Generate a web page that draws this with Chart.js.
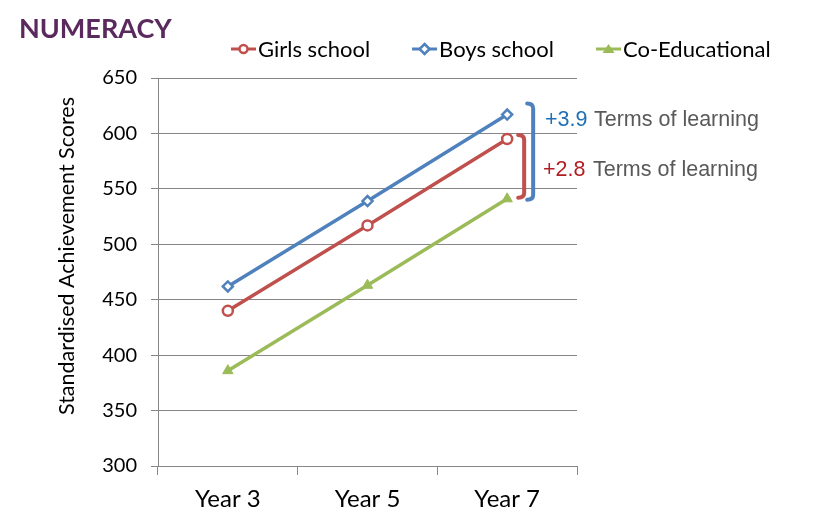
<!DOCTYPE html>
<html lang="en">
<head>
    <meta charset="UTF-8">
    <title>Numeracy</title>
    <script src="https://cdn.jsdelivr.net/npm/chart.js"></script>
    <style>
        html, body { margin: 0; padding: 0; background: #fff; }
        .chart-box { width: 815px; height: 519px; }
    </style>
</head>
<body>
    <div class="chart-box">
        <canvas id="numeracyChart"></canvas>
    </div>

    <script>
        // values
        const years = ['Year 3', 'Year 5', 'Year 7'];
        const girlsScores = [440, 517, 595];
        const boysScores = [462, 539, 617];
        const coedScores = [386, 463, 541];
        const yTicks = [300, 350, 400, 450, 500, 550, 600, 650];

        // gap annotations at Year 7: [label, top series value, bottom series value]
        const boysGap = ['+3.9', 617, 541];
        const girlsGap = ['+2.8', 595, 541];
        const gapText = 'Terms of learning';
        const yTitle = 'Standardised Achievement Scores';

        const RED = '#C0504D', BLUE = '#4F81BD', GREEN = '#9BBB59';
        const FONT = 'Lato, "Open Sans", sans-serif';

        // line + marker, as in the legend
        function drawIcon(g, x, y, color, shape) {
            g.strokeStyle = color; g.lineWidth = 3;
            g.beginPath(); g.moveTo(x, y); g.lineTo(x + 25, y); g.stroke();
            const cx = x + 12.5;
            g.lineWidth = 2.5;
            g.beginPath();
            if (shape === 'circle') {
                g.arc(cx, y, 4, 0, Math.PI * 2);
                g.fillStyle = '#fff'; g.fill(); g.stroke();
            } else if (shape === 'rectRot') {
                g.moveTo(cx, y - 5); g.lineTo(cx + 5, y); g.lineTo(cx, y + 5); g.lineTo(cx - 5, y); g.closePath();
                g.fillStyle = '#fff'; g.fill(); g.stroke();
            } else {
                g.moveTo(cx, y - 5); g.lineTo(cx + 6, y + 4); g.lineTo(cx - 6, y + 4); g.closePath();
                g.fillStyle = color; g.fill();
            }
        }

        const extras = {
            id: 'extras',
            afterDraw(chart) {
                const ctx = chart.ctx;
                const x = chart.scales.x, y = chart.scales.y;
                ctx.save();
                // title
                ctx.fillStyle = '#5A2A5E';
                ctx.font = 'bold 27px ' + FONT;
                ctx.textBaseline = 'middle';
                ctx.fillText('NUMERACY', 19, 29);

                // y axis title
                ctx.save();
                ctx.translate(67, 256);
                ctx.rotate(-Math.PI / 2);
                ctx.font = '21.5px ' + FONT;
                ctx.fillStyle = '#000';
                ctx.textAlign = 'center';
                ctx.fillText(yTitle, 0, 0);
                ctx.restore();

                // legend
                ctx.font = '22px ' + FONT;
                let lx = 231;
                chart.data.datasets.forEach(ds => {
                    drawIcon(ctx, lx, 49, ds.borderColor, ds.pointStyle);
                    lx += 27;
                    ctx.fillStyle = '#000';
                    ctx.fillText(ds.label, lx, 50);
                    lx += ctx.measureText(ds.label).width + 42;
                });

                // brackets
                const x7 = x.getPixelForValue(2);
                function bracket(px, top, bottom, color) {
                    ctx.strokeStyle = color;
                    ctx.lineWidth = 4;
                    ctx.lineCap = 'round';
                    ctx.lineJoin = 'round';
                    ctx.beginPath();
                    ctx.moveTo(px - 6, top);
                    ctx.quadraticCurveTo(px, top, px, top + 5);
                    ctx.lineTo(px, bottom - 5);
                    ctx.quadraticCurveTo(px, bottom, px - 6, bottom);
                    ctx.stroke();
                }
                bracket(x7 + 26, y.getPixelForValue(boysGap[1]) - 11, y.getPixelForValue(boysGap[2]) + 1, BLUE);
                bracket(x7 + 17, y.getPixelForValue(girlsGap[1]) - 4, y.getPixelForValue(girlsGap[2]) - 1, RED);

                // gap labels
                ctx.font = '21.5px "Liberation Sans", Arial, sans-serif';
                ctx.textBaseline = 'alphabetic';
                ctx.fillStyle = '#1F6FB5';
                ctx.fillText(boysGap[0], 545, 126);
                ctx.fillStyle = '#595959';
                ctx.fillText(gapText, 594, 126);
                ctx.fillStyle = '#B01E22';
                ctx.fillText(girlsGap[0], 543, 176);
                ctx.fillStyle = '#595959';
                ctx.fillText(gapText, 593, 176);
                ctx.restore();
            }
        };

        const ctx = document.getElementById('numeracyChart').getContext('2d');
        const numeracyChart = new Chart(ctx, {
            type: 'line',
            data: {
                labels: years,
                datasets: [{
                    label: 'Girls school',
                    data: girlsScores,
                    borderColor: RED,
                    backgroundColor: '#fff',
                    borderWidth: 3.5,
                    pointStyle: 'circle',
                    pointRadius: 5,
                    pointBorderWidth: 2.5
                }, {
                    label: 'Boys school',
                    data: boysScores,
                    borderColor: BLUE,
                    backgroundColor: '#fff',
                    borderWidth: 3.5,
                    pointStyle: 'rectRot',
                    pointRadius: 5,
                    pointBorderWidth: 2.5
                }, {
                    label: 'Co-Educational',
                    data: coedScores,
                    borderColor: GREEN,
                    backgroundColor: GREEN,
                    borderWidth: 3.5,
                    pointStyle: 'triangle',
                    pointRadius: 6,
                    pointBorderWidth: 1
                }]
            },
            options: {
                responsive: true,
                maintainAspectRatio: false,
                animation: false,
                layout: { padding: { top: 78, right: 45, left: 0, bottom: 0 } },
                scales: {
                    x: {
                        offset: true,
                        grid: { offset: true, drawOnChartArea: false, color: '#868686', tickLength: 9 },
                        border: { color: '#868686', width: 1 },
                        ticks: { color: '#000', font: { family: FONT, size: 24 }, padding: 10 },
                        afterFit(scale) { scale.height = 53; }
                    },
                    y: {
                        min: 300,
                        max: 650,
                        afterBuildTicks(scale) { scale.ticks = yTicks.map(v => ({ value: v })); },
                        grid: { color: '#868686', tickLength: 7 },
                        border: { color: '#868686', width: 1 },
                        ticks: { color: '#000', font: { family: FONT, size: 20 }, padding: 14 },
                        afterFit(scale) { scale.width = 158; }
                    },
                    spacer: {
                        position: 'right',
                        display: true,
                        grid: { display: false },
                        border: { display: false },
                        ticks: { display: false },
                        afterFit(scale) { scale.width = 193; }
                    }
                },
                plugins: {
                    legend: { display: false },
                    tooltip: { enabled: false }
                }
            },
            plugins: [extras]
        });
    </script>
</body>
</html>
